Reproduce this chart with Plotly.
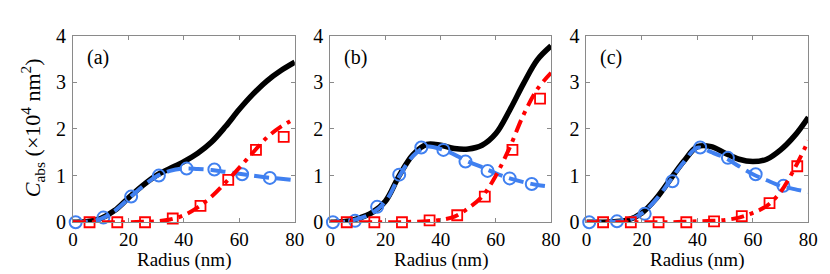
import plotly.graph_objects as go

# ---- data (radius in nm, C_abs in 1e4 nm^2) ----
r_line = [0, 5, 10, 15, 20, 25, 30, 35, 40, 45, 50, 55, 60, 65, 70, 75, 80]

a_total = [0, 0.01, 0.08, 0.25, 0.52, 0.78, 1.0, 1.15, 1.3, 1.48, 1.72, 2.05, 2.42, 2.75, 3.03, 3.25, 3.43]
a_dip   = [0, 0.01, 0.07, 0.24, 0.5, 0.76, 0.98, 1.1, 1.15, 1.14, 1.12, 1.08, 1.04, 1.0, 0.96, 0.93, 0.9]
a_quad  = [0, 0, 0, 0, 0, 0.01, 0.02, 0.06, 0.15, 0.32, 0.55, 0.85, 1.17, 1.5, 1.82, 2.05, 2.22]

b_total = [0, 0.01, 0.08, 0.2, 0.45, 1.0, 1.45, 1.67, 1.65, 1.58, 1.57, 1.65, 1.9, 2.4, 2.97, 3.48, 3.78]
b_dip   = [0, 0.01, 0.07, 0.19, 0.44, 0.98, 1.42, 1.62, 1.57, 1.45, 1.3, 1.18, 1.05, 0.94, 0.86, 0.8, 0.76]
b_quad  = [0, 0, 0, 0, 0, 0, 0.01, 0.02, 0.05, 0.12, 0.3, 0.55, 1.0, 1.6, 2.3, 2.85, 3.2]

c_total = [0, 0.0, 0.01, 0.05, 0.2, 0.5, 0.9, 1.3, 1.62, 1.62, 1.48, 1.35, 1.3, 1.35, 1.55, 1.85, 2.25]
c_dip   = [0, 0.0, 0.01, 0.05, 0.19, 0.48, 0.88, 1.28, 1.6, 1.5, 1.38, 1.2, 1.03, 0.9, 0.78, 0.71, 0.65]
c_quad  = [0, 0, 0, 0, 0, 0, 0, 0.01, 0.02, 0.03, 0.05, 0.1, 0.2, 0.35, 0.65, 1.15, 1.75]

a_circ_r = [1, 11, 21, 31, 41, 51, 61, 71]
a_circ_v = [0, 0.1, 0.55, 1.0, 1.15, 1.13, 1.03, 0.95]
b_circ_r = [1, 9, 17, 25, 33, 41, 49, 57, 65, 73]
b_circ_v = [0, 0.03, 0.33, 1.02, 1.6, 1.55, 1.3, 1.1, 0.94, 0.82]
c_circ_r = [1, 11, 21, 31, 41, 51, 61, 71]
c_circ_v = [0, 0.02, 0.18, 0.88, 1.6, 1.38, 1.03, 0.78]

sq_r = [6, 16, 26, 36, 46, 56, 66, 76]
a_sq_v = [0, 0, 0, 0.08, 0.35, 0.91, 1.55, 1.83]
b_sq_v = [0, 0, 0, 0.04, 0.15, 0.55, 1.55, 2.65]
c_sq_v = [0, 0, 0, 0, 0.02, 0.13, 0.41, 1.2]

labels = ["(a)", "(b)", "(c)"]
x_title = "Radius (nm)"
y_title = "<i>C</i><sub>abs</sub> (×10<sup>4</sup> nm<sup>2</sup>)"
x_ticks = [0, 20, 40, 60, 80]
y_ticks = [0, 1, 2, 3, 4]

panels = [
    (a_total, a_dip, a_quad, a_circ_r, a_circ_v, a_sq_v),
    (b_total, b_dip, b_quad, b_circ_r, b_circ_v, b_sq_v),
    (c_total, c_dip, c_quad, c_circ_r, c_circ_v, c_sq_v),
]

W, H = 830, 274
xdoms = [(61, 287), (323, 548), (584, 810)]
ytop, ybot = 18, 221
BLUE = "rgb(64,128,240)"
RED = "rgb(255,0,0)"
FONT = "Liberation Serif, Times New Roman, Times, serif"

fig = go.Figure()
for i, (tot, dip, quad, cr, cv, sv) in enumerate(panels):
    xa = "x" if i == 0 else f"x{i+1}"
    ya = "y" if i == 0 else f"y{i+1}"
    fig.add_trace(go.Scatter(x=r_line, y=tot, mode="lines", line=dict(color="black", width=5.5, shape="spline"),
                             xaxis=xa, yaxis=ya, showlegend=False))
    fig.add_trace(go.Scatter(x=r_line, y=dip, mode="lines", line=dict(color=BLUE, width=4, dash="15px,7px", shape="spline"),
                             xaxis=xa, yaxis=ya, showlegend=False))
    fig.add_trace(go.Scatter(x=cr, y=cv, mode="markers",
                             marker=dict(symbol="circle-open", size=12, color=BLUE, line=dict(width=2, color=BLUE)),
                             xaxis=xa, yaxis=ya, showlegend=False, cliponaxis=False))
    fig.add_trace(go.Scatter(x=r_line, y=quad, mode="lines", line=dict(color=RED, width=4, dash="13px,6px,4px,6px", shape="spline"),
                             xaxis=xa, yaxis=ya, showlegend=False))
    fig.add_trace(go.Scatter(x=sq_r, y=sv, mode="markers",
                             marker=dict(symbol="square-open", size=10, color=RED, line=dict(width=1.8, color=RED)),
                             xaxis=xa, yaxis=ya, showlegend=False, cliponaxis=False))

    x0, x1 = xdoms[i]
    axcommon = dict(showline=True, mirror="ticks", linecolor="#8a8a8a", linewidth=1,
                    ticks="inside", ticklen=4, tickcolor="#8a8a8a", showgrid=False, zeroline=False)
    xkey = "xaxis" if i == 0 else f"xaxis{i+1}"
    ykey = "yaxis" if i == 0 else f"yaxis{i+1}"
    fig.layout[xkey] = dict(domain=[x0 / W, x1 / W], range=[0, 80], tickvals=x_ticks, anchor=ya,
                            ticklabelstandoff=0, tickfont=dict(family=FONT, size=19, color="black"), **axcommon)
    fig.layout[ykey] = dict(domain=[1 - ybot / H, 1 - ytop / H], range=[0, 4], tickvals=y_ticks, anchor=xa,
                            ticklabelstandoff=2, tickfont=dict(family=FONT, size=20, color="black"), **axcommon)
    fig.add_annotation(text=labels[i], x=(x0 + 12) / W, y=1 - 42 / H, xref="paper", yref="paper",
                       xanchor="left", yanchor="middle", showarrow=False,
                       font=dict(family=FONT, size=20, color="black"))
    fig.add_annotation(text=x_title, x=(x0 + x1) / 2 / W, y=1 - 262 / H, xref="paper", yref="paper",
                       xanchor="center", yanchor="middle", showarrow=False,
                       font=dict(family=FONT, size=19, color="black"))

fig.add_annotation(text=y_title, textangle=-90,
                   x=20 / W, y=1 - 118 / H, xref="paper", yref="paper", xanchor="center", yanchor="middle",
                   showarrow=False, font=dict(family=FONT, size=22, color="black"))

fig.update_layout(width=W, height=H, margin=dict(l=0, r=0, t=0, b=0),
                  paper_bgcolor="white", plot_bgcolor="white")
fig.write_html("out.html")
